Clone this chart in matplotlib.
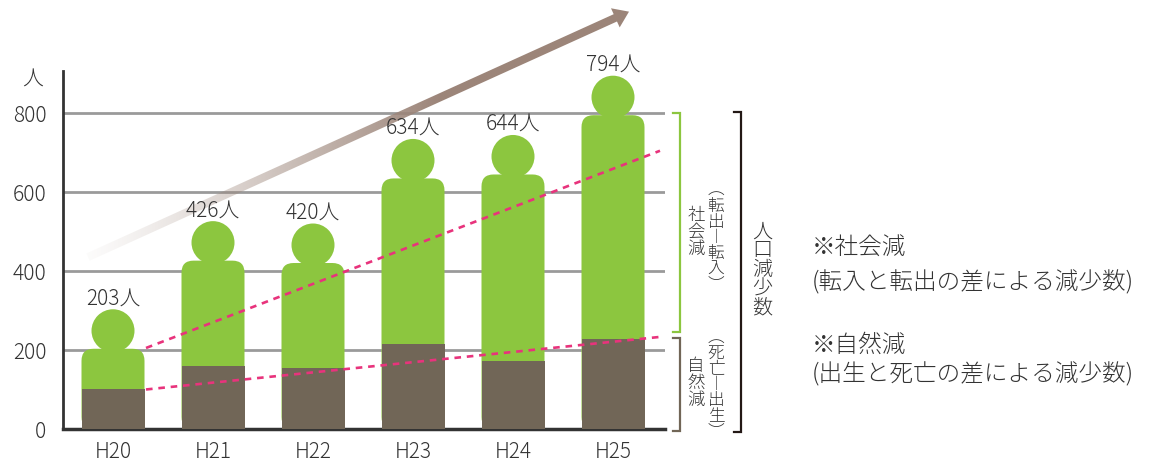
import matplotlib.pyplot as plt
import matplotlib.colors as mcolors
import numpy as np
from matplotlib.patches import FancyBboxPatch, Ellipse, Polygon

plt.rcParams['font.family'] = ['Noto Sans CJK JP', 'DejaVu Sans']
plt.rcParams['font.weight'] = 'light'

years = ['H20', 'H21', 'H22', 'H23', 'H24', 'H25']
total_decrease = [203, 426, 420, 634, 644, 794]
natural_decrease = [100, 160, 155, 215, 172, 228]

# dashed guide lines (x at both ends, value at both ends)
trend_x = [0.33, 5.47]
social_trend = [205, 704]
natural_trend = [100, 233]

GREEN = '#8cc63f'
BROWN = '#716657'
PINK = '#e8337c'
TEXT = '#333333'
W, H = 1151, 464

fig = plt.figure(figsize=(W / 100, H / 100), dpi=100)
ax = fig.add_axes([63 / W, 34 / H, 602 / W, 430 / H])
XLIM, YLIM = (-0.5, 5.52), (0, 1088)
ax.set_xlim(*XLIM)
ax.set_ylim(*YLIM)

# data units per pixel
ux = (XLIM[1] - XLIM[0]) / 602
uy = (YLIM[1] - YLIM[0]) / 430


def gradient_arrow(start, end, shaft=8, head_w=21, head_l=15, color='#9c8579'):
    p0, p1 = ax.transData.transform([start, end])
    d = p1 - p0
    u = d / np.hypot(*d)
    n = np.array([-u[1], u[0]])
    neck = p1 - u * head_l
    pts = [p0 + n * shaft / 2, neck + n * shaft / 2, neck + n * head_w / 2, p1,
           neck - n * head_w / 2, neck - n * shaft / 2, p0 - n * shaft / 2]
    verts = ax.transData.inverted().transform(pts)
    poly = Polygon(verts, closed=True, fc='none', ec='none')
    ax.add_patch(poly)
    t = np.linspace(0, 1, 256)
    img = np.zeros((1, 256, 4))
    img[..., :3] = mcolors.to_rgb(color)
    img[..., 3] = 0.03 + 0.97 * np.clip(t / 0.65, 0, 1) ** 1.2
    (xmin, ymin), (xmax, ymax) = verts.min(axis=0), verts.max(axis=0)
    im = ax.imshow(img, extent=(xmin, xmax, ymin, ymax), aspect='auto',
                   interpolation='bilinear', zorder=1)
    im.set_clip_path(poly)


def bracket(x, y0, y1, color, tick=0.075):
    ax.plot([x - tick, x, x, x - tick], [y1, y1, y0, y0], color=color, lw=1.6,
            clip_on=False, solid_joinstyle='miter')


def vtext(x, y_center, chars, size, step, color=TEXT):
    n = len(chars)
    for k, ch in enumerate(chars):
        y = y_center + ((n - 1) / 2 - k) * step * uy
        ax.text(x, y, ch, ha='center', va='center', fontsize=size, color=color,
                clip_on=False)


gradient_arrow((-0.25, 435), (5.16, 1056))

# person-shaped bars: rounded body up to the total, head on top
x = np.arange(len(years))
for xi, tot, nat in zip(x, total_decrease, natural_decrease):
    body = FancyBboxPatch((xi - 0.315, 0), 0.63, tot,
                          boxstyle=f'round,pad=0,rounding_size={12 * ux}',
                          mutation_aspect=uy / ux, fc=GREEN, ec='none', zorder=2)
    ax.add_patch(body)
    head_cy = tot + 18 * uy
    ax.add_patch(Ellipse((xi, head_cy), 43 * ux, 43 * uy, fc=GREEN, ec='none', zorder=2))
    ax.text(xi, head_cy + 26.5 * uy, f'{tot}人', ha='center', va='baseline',
            fontsize=15, color=TEXT, zorder=5)

ax.bar(x, natural_decrease, width=0.63, color=BROWN, zorder=3)

ax.plot(trend_x, social_trend, color=PINK, lw=1.9, ls=(0, (2.5, 2.2)), zorder=4)
ax.plot(trend_x, natural_trend, color=PINK, lw=1.9, ls=(0, (2.5, 2.2)), zorder=4)

ax.set_xlim(*XLIM)
ax.set_ylim(*YLIM)
ax.set_yticks([0, 200, 400, 600, 800])
ax.set_xticks(x, years)
ax.tick_params(axis='both', length=0, labelsize=15, labelcolor=TEXT)
ax.tick_params(axis='y', pad=12)
ax.tick_params(axis='x', pad=8)
ax.grid(axis='y', color='#9a9a9a', lw=2)
ax.set_axisbelow(True)
for s in ['top', 'right']:
    ax.spines[s].set_visible(False)
ax.spines['left'].set_bounds(0, 906)
ax.spines['left'].set_linewidth(2)
ax.spines['left'].set_color(TEXT)
ax.spines['bottom'].set_linewidth(2.5)
ax.spines['bottom'].set_color(TEXT)

fig.text(33 / W, 1 - 80 / H, '人', ha='center', va='center', fontsize=15, color=TEXT)

# brackets and their vertical captions
bracket(5.67, 245, 800, GREEN)
bracket(5.67, -5, 230, BROWN)
bracket(6.28, -8, 803, '#231815')
vtext(5.83, 501, '社会減', 12.5, 16.7)
vtext(6.03, 486, '︵転出︱転入︶', 12, 15.7)
vtext(5.83, 119, '自然減', 12.5, 16.7)
vtext(6.03, 114, '︵死亡︱出生︶', 12, 15.7)
vtext(6.49, 405, '人口減少数', 14.5, 19)

notes = [('※社会減', 248), ('(転入と転出の差による減少数)', 283),
         ('※自然減', 345), ('(出生と死亡の差による減少数)', 375)]
for s, ypx in notes:
    fig.text(812 / W, 1 - ypx / H, s, ha='left', va='center', fontsize=17, color=TEXT)

fig.savefig('out.png', dpi=100)
